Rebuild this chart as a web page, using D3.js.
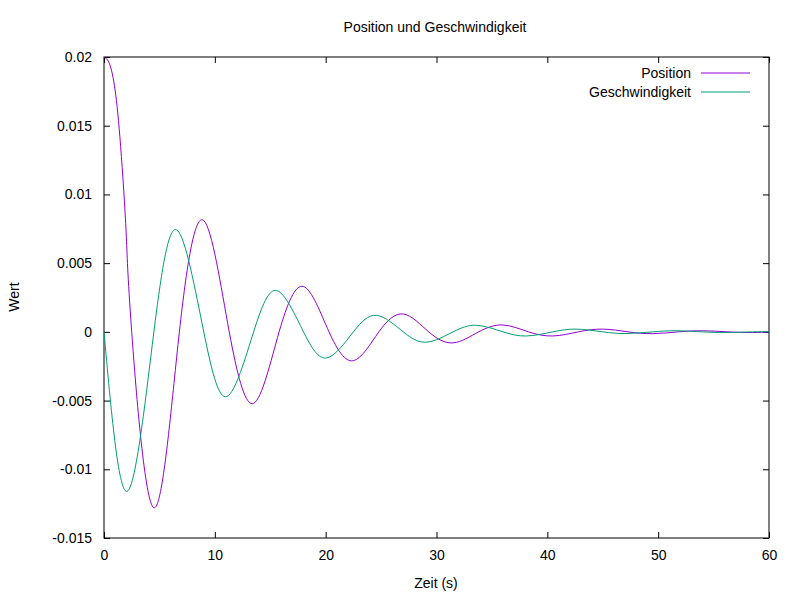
<!DOCTYPE html>
<html><head><meta charset="utf-8">
<script src="https://cdn.jsdelivr.net/npm/d3@7"></script>
<style>body{margin:0;background:#fff}text{font-family:"Liberation Sans",Arial,sans-serif;font-size:12px}</style>
</head><body>
<script>
// values: extrema and zero crossings
const posT = [0, 0.5, 1, 1.5, 2, 2.5, 4.5, 6.8, 9, 11.3, 13.5, 15.8, 18, 20.3, 22.5, 24.8, 27, 29.3, 31.5, 33.8, 36, 38.3, 40.5, 42.8, 45, 47.3, 49.5, 51.8, 54, 56.3, 58.5, 60];
const posV = [0.02, 0.0195, 0.0176, 0.0135, 0.0072, 0, -0.0128, 0, 0.0081, 0, -0.0052, 0, 0.0033, 0, -0.0021, 0, 0.0013, 0, -0.0008, 0, 0.0005, 0, -0.0003, 0, 0.0002, 0, -0.00013, 0, 0.00008, 0, -0.00005, 0];
const velT = [0, 2.1, 4.5, 6.6, 9, 11.1, 13.5, 15.6, 18, 20.1, 22.5, 24.6, 27, 29.1, 31.5, 33.6, 36, 38.1, 40.5, 42.6, 45, 47.1, 49.5, 51.6, 54, 56.1, 58.5, 60];
const velV = [0, -0.0116, 0, 0.0074, 0, -0.0047, 0, 0.0030, 0, -0.0019, 0, 0.0012, 0, -0.00075, 0, 0.00048, 0, -0.0003, 0, 0.0002, 0, -0.00012, 0, 0.00008, 0, -0.00005, 0, 0.00001];
const xTicks = [0, 10, 20, 30, 40, 50, 60];
const yTicks = [-0.015, -0.01, -0.005, 0, 0.005, 0.01, 0.015, 0.02];

const W = 800, H = 600, L = 104, R = 769, T = 57, B = 538;
const svg = d3.select('body').append('svg').attr('width', W).attr('height', H);
const x = d3.scaleLinear().domain([0, 60]).range([L, R]);
const y = d3.scaleLinear().domain([-0.015, 0.02]).range([B, T]);

const ax = (g, axis) => { g.call(axis); g.select('.domain').remove(); g.selectAll('line').attr('stroke', '#000'); g.selectAll('text').attr('fill', '#000').style('font-size', '14px'); };
svg.append('g').attr('transform', `translate(0,${B})`).call(g => ax(g, d3.axisBottom(x).tickValues(xTicks).tickSizeInner(-6).tickPadding(12).tickFormat(d3.format('d'))));
svg.append('g').attr('transform', `translate(0,${T})`).call(g => ax(g, d3.axisTop(x).tickValues(xTicks).tickSizeInner(-6).tickFormat('')));
svg.append('g').attr('transform', `translate(${L},0)`).call(g => ax(g, d3.axisLeft(y).tickValues(yTicks).tickSizeInner(-6).tickPadding(12).tickFormat(d => d === 0 ? '0' : String(+d.toFixed(3)))));
svg.append('g').attr('transform', `translate(${R},0)`).call(g => ax(g, d3.axisRight(y).tickValues(yTicks).tickSizeInner(-6).tickFormat('')));
svg.append('rect').attr('x', L).attr('y', T).attr('width', R - L).attr('height', B - T).attr('fill', 'none').attr('stroke', '#000');

const line = d3.line().x(d => x(d[0])).y(d => y(d[1])).curve(d3.curveNatural);
svg.append('clipPath').attr('id', 'c').append('rect').attr('x', L).attr('y', T).attr('width', R - L).attr('height', B - T);
svg.append('path').datum(posT.map((t, i) => [t, posV[i]])).attr('d', line).attr('fill', 'none').attr('stroke', '#9400d3').attr('clip-path', 'url(#c)');
svg.append('path').datum(velT.map((t, i) => [t, velV[i]])).attr('d', line).attr('fill', 'none').attr('stroke', '#009e73').attr('clip-path', 'url(#c)');

svg.append('text').attr('x', 435).attr('y', 32).attr('text-anchor', 'middle').style('font-size', '14px').text('Position und Geschwindigkeit');
svg.append('text').attr('x', 436).attr('y', 588).attr('text-anchor', 'middle').style('font-size', '14px').text('Zeit (s)');
svg.append('text').attr('transform', 'translate(19,297) rotate(-90)').attr('text-anchor', 'middle').style('font-size', '14px').text('Wert');

const leg = [['Position', '#9400d3'], ['Geschwindigkeit', '#009e73']];
leg.forEach((d, i) => {
  const yy = 73 + i * 19;
  svg.append('text').attr('x', 691).attr('y', yy + 5).attr('text-anchor', 'end').style('font-size', '14px').text(d[0]);
  svg.append('line').attr('x1', 701).attr('x2', 750).attr('y1', yy).attr('y2', yy).attr('stroke', d[1]);
});
</script>
</body></html>
